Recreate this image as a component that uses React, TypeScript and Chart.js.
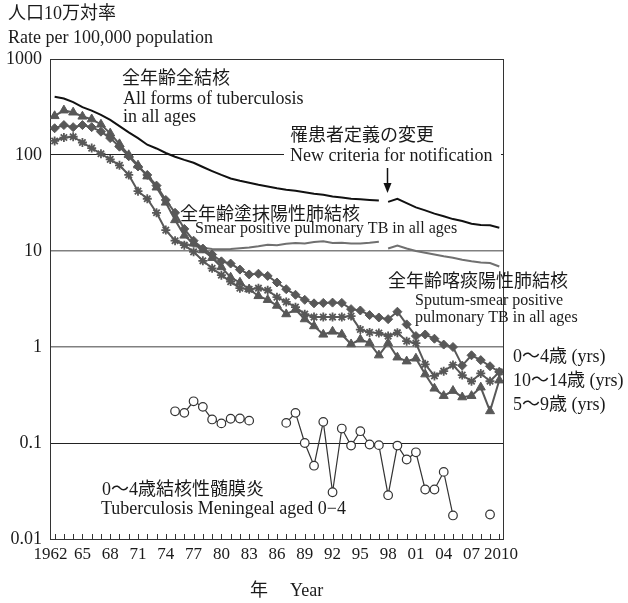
import React, { useEffect, useRef } from 'react';
import { Chart, registerables } from 'chart.js';

Chart.register(...registerables);

const FONT_FAMILY = '"Liberation Serif", "Noto Sans CJK JP", serif';

const years = [
  1962, 1963, 1964, 1965, 1966, 1967, 1968, 1969, 1970, 1971,
  1972, 1973, 1974, 1975, 1976, 1977, 1978, 1979, 1980, 1981,
  1982, 1983, 1984, 1985, 1986, 1987, 1988, 1989, 1990, 1991,
  1992, 1993, 1994, 1995, 1996, 1997, 1998, 1999, 2000, 2001,
  2002, 2003, 2004, 2005, 2006, 2007, 2008, 2009, 2010,
];

const xTickYears = [1962, 1965, 1968, 1971, 1974, 1977, 1980, 1983, 1986, 1989, 1992, 1995, 1998, 2001, 2004, 2007, 2010];
const xTickLabels = ['1962\u2002', '65', '68', '71', '74', '77', '80', '83', '86', '89', '92', '95', '98', '01', '04', '07', '\u20092010'];
const yTickValues = [0.01, 0.1, 1, 10, 100, 1000];
const yTickLabels = ['0.01', '0.1', '1', '10', '100', '1000'];

// All forms of TB, all ages (old criteria 1962-1997)
const allFormsOld = [
  404, 388, 355, 315, 290, 262, 232, 200, 172, 150,
  128, 117, 105, 96, 89, 83, 75, 68, 62, 57,
  54, 51.5, 49, 47, 45, 43.5, 42.5, 41, 39.5, 38.5,
  37, 36, 35, 34.5, 34, 33.5, null, null, null, null,
  null, null, null, null, null, null, null, null, null,
];
// All forms of TB, all ages (new criteria 1998-2010)
const allFormsNew = [
  null, null, null, null, null, null, null, null, null, null,
  null, null, null, null, null, null, null, null, null, null,
  null, null, null, null, null, null, null, null, null, null,
  null, null, null, null, null, null, 32.5, 35, 31.5, 28.5,
  26.5, 24.5, 23, 21.5, 20.5, 19.2, 18.7, 18.5, 17.5,
];
// Smear positive pulmonary TB, all ages (1975-1997)
const smearOld = [
  null, null, null, null, null, null, null, null, null, null,
  null, null, null, 13, 12, 11.3, 10.8, 10.5, 10.4, 10.5,
  10.7, 10.9, 11.2, 11.6, 11.5, 11.9, 12.1, 12.0, 12.4, 12.6,
  12.1, 12.2, 12.0, 12.0, 12.2, 12.5, null, null, null, null,
  null, null, null, null, null, null, null, null, null,
];
// Sputum-smear positive pulmonary TB, all ages (1998-2010)
const sputumNew = [
  null, null, null, null, null, null, null, null, null, null,
  null, null, null, null, null, null, null, null, null, null,
  null, null, null, null, null, null, null, null, null, null,
  null, null, null, null, null, null, 10.6, 11.4, 10.6, 10.0,
  9.6, 9.2, 8.8, 8.5, 8.1, 7.8, 7.6, 7.5, 6.9,
];
// 0-4 yrs
const age0to4 = [
  190, 205, 195, 205, 195, 175, 150, 122, 97, 76,
  62, 48, 34, 25, 17, 12.8, 10.6, 9.2, 7.8, 7.4,
  6.4, 5.7, 5.8, 5.5, 4.7, 4.0, 3.5, 3.1, 2.85, 2.88,
  2.9, 2.88, 2.48, 2.4, 2.15, 2.03, 1.95, 2.33, 1.72, 1.3,
  1.35, 1.22, 1.06, 1.0, 0.64, 0.82, 0.73, 0.63, 0.55,
];
// 10-14 yrs
const age10to14 = [
  140, 152, 155, 135, 118, 103, 90, 78, 62, 42,
  35, 25, 16.5, 12.8, 11.5, 9.8, 7.9, 6.6, 5.6, 4.8,
  4.1, 4.0, 4.1, 3.9, 3.3, 2.95, 2.6, 2.2, 2.05, 2.05,
  2.05, 2.05, 2.1, 1.52, 1.42, 1.4, 1.3, 1.41, 1.15, 1.1,
  0.66, 0.5, 0.56, 0.65, 0.51, 0.44, 0.53, 0.44, 0.55,
];
// 5-9 yrs
const age5to9 = [
  255, 292, 278, 252, 236, 208, 168, 130, 100, 78,
  60, 46, 32, 21, 14.5, 12, 10.2, 8.5, 6.8, 5.3,
  4.7, 4.0, 3.4, 3.1, 2.7, 2.2, 2.45, 1.95, 1.65, 1.35,
  1.45, 1.35, 1.07, 1.2, 1.1, 0.82, 1.1, 0.78, 0.71, 0.76,
  0.52, 0.37, 0.31, 0.35, 0.30, 0.31, 0.38, 0.215, 0.45,
];
// TB meningitis aged 0-4
const meningeal0to4 = [
  null, null, null, null, null, null, null, null, null, null,
  null, null, null, 0.214, 0.206, 0.272, 0.238, 0.176, 0.160, 0.179,
  0.18, 0.171, null, null, null, 0.162, 0.206, 0.100, 0.058, 0.166,
  0.0307, 0.1415, 0.094, 0.1327, 0.0965, 0.095, 0.0286, 0.094, 0.0673, 0.080,
  0.0328, 0.0328, 0.050, 0.0176, null, null, null, 0.018, null,
];

const GRAY = '#585858';

function pts(arr: (number | null)[]) {
  return years.map((x, i) => ({ x, y: arr[i] }));
}

export default function App() {
  const ref = useRef<HTMLCanvasElement>(null);

  useEffect(() => {
    if (!ref.current) return;

    const annotations = {
      id: 'annotations',
      beforeDatasetsDraw(chart: any) {
        const ctx = chart.ctx;
        const a = chart.chartArea;
        ctx.save();
        // white box behind "New criteria for notification"
        ctx.fillStyle = '#ffffff';
        ctx.fillRect(284, 147, 217, 17);
        // frame
        ctx.strokeStyle = '#333';
        ctx.lineWidth = 1;
        ctx.strokeRect(Math.round(a.left) + 0.5, Math.round(a.top) + 0.5, Math.round(a.right - a.left), Math.round(a.bottom - a.top));
        // inward minor ticks on x axis, one per year
        const xs = chart.scales.x;
        ctx.beginPath();
        for (const yr of years) {
          const px = Math.round(xs.getPixelForValue(yr)) + 0.5;
          ctx.moveTo(px, a.bottom);
          ctx.lineTo(px, a.bottom - 5);
        }
        ctx.stroke();
        ctx.restore();
      },
      afterDraw(chart: any) {
        const ctx = chart.ctx;
        const xs = chart.scales.x;
        ctx.save();
        ctx.fillStyle = '#1a1a1a';
        ctx.textBaseline = 'middle';
        ctx.textAlign = 'left';
        const t = (s: string, x: number, y: number, size = 18) => {
          ctx.font = `${size}px ${FONT_FAMILY}`;
          ctx.fillText(s, x, y);
        };
        t('人口10万対率', 8, 14);
        t('Rate per 100,000 population', 8, 38);
        t('全年齢全結核', 122, 79);
        t('All forms of tuberculosis', 123, 99);
        t('in all ages', 123, 117);
        t('罹患者定義の変更', 290, 136);
        t('New criteria for notification', 290, 156);
        t('全年齢塗抹陽性肺結核', 180, 215);
        t('Smear positive pulmonary TB in all ages', 195, 229, 16);
        t('全年齢喀痰陽性肺結核', 388, 282);
        t('Sputum-smear positive', 415, 301, 16);
        t('pulmonary TB in all ages', 415, 318, 16);
        t('0～4歳 (yrs)', 513, 357);
        t('10～14歳 (yrs)', 513, 381);
        t('5～9歳 (yrs)', 513, 405);
        t('0～4歳結核性髄膜炎', 102, 490);
        t('Tuberculosis Meningeal aged 0−4', 101, 509);
        t('年', 250, 591);
        t('Year', 290, 591);
        // arrow for new notification criteria
        const ax = Math.round(xs.getPixelForValue(1997.9)) + 0.5;
        ctx.strokeStyle = '#111';
        ctx.lineWidth = 1.5;
        ctx.beginPath();
        ctx.moveTo(ax, 168);
        ctx.lineTo(ax, 185);
        ctx.stroke();
        ctx.fillStyle = '#111';
        ctx.beginPath();
        ctx.moveTo(ax - 4, 183);
        ctx.lineTo(ax + 4, 183);
        ctx.lineTo(ax, 193);
        ctx.closePath();
        ctx.fill();
        ctx.restore();
      },
    };

    const markerSeries = (arr: (number | null)[], style: string, radius: number, bw = 1) => ({
      data: pts(arr),
      borderColor: GRAY,
      backgroundColor: GRAY,
      borderWidth: 2,
      pointStyle: style,
      pointRadius: radius,
      pointBorderWidth: bw,
      pointBackgroundColor: GRAY,
      pointBorderColor: GRAY,
      spanGaps: false,
      tension: 0,
    });

    const chart = new Chart(ref.current, {
      type: 'line',
      data: {
        datasets: [
          {
            data: pts(meningeal0to4),
            borderColor: '#333',
            borderWidth: 1.2,
            pointStyle: 'circle',
            pointRadius: 4.3,
            pointBorderWidth: 1.2,
            pointBackgroundColor: '#ffffff',
            pointBorderColor: '#333',
            spanGaps: false,
          } as any,
          markerSeries(age0to4, 'rectRot', 4.5) as any,
          markerSeries(age10to14, 'star', 4.5, 1.8) as any,
          markerSeries(age5to9, 'triangle', 5.2) as any,
          { data: pts(smearOld), borderColor: '#707070', borderWidth: 2, pointRadius: 0, spanGaps: false } as any,
          { data: pts(sputumNew), borderColor: '#707070', borderWidth: 2, pointRadius: 0, spanGaps: false } as any,
          { data: pts(allFormsOld), borderColor: '#111', borderWidth: 2, pointRadius: 0, spanGaps: false } as any,
          { data: pts(allFormsNew), borderColor: '#111', borderWidth: 2, pointRadius: 0, spanGaps: false } as any,
        ],
      },
      options: {
        animation: false,
        responsive: false,
        maintainAspectRatio: false,
        layout: { padding: { top: 59, right: 125, left: 0, bottom: 0 } },
        plugins: {
          legend: { display: false },
          tooltip: { enabled: false },
          title: { display: false },
        },
        elements: { line: { tension: 0 } },
        scales: {
          x: {
            type: 'linear',
            min: 1961.5,
            max: 2010.4,
            afterBuildTicks: (s: any) => {
              s.ticks = xTickYears.map((v) => ({ value: v }));
            },
            afterFit: (s: any) => {
              s.height = 64;
            },
            ticks: {
              autoSkip: false,
              maxRotation: 0,
              minRotation: 0,
              padding: 5,
              color: '#1a1a1a',
              font: { family: FONT_FAMILY, size: 17 },
              callback: (_v: any, i: number) => xTickLabels[i],
            },
            grid: { display: false, drawTicks: false },
            border: { display: false },
          },
          y: {
            type: 'logarithmic',
            min: 0.01,
            max: 1000,
            afterBuildTicks: (s: any) => {
              s.ticks = yTickValues.map((v) => ({ value: v }));
            },
            afterFit: (s: any) => {
              s.width = 50;
            },
            ticks: {
              padding: 8,
              color: '#1a1a1a',
              font: { family: FONT_FAMILY, size: 18 },
              callback: (_v: any, i: number) => yTickLabels[i],
            },
            grid: {
              drawTicks: false,
              lineWidth: (c: any) => (c.tick && (c.tick.value === 10 || c.tick.value === 1) ? 1.4 : 1),
              color: (c: any) => {
                const v = c.tick ? c.tick.value : 0;
                if (v === 1000 || v === 0.01) return 'rgba(0,0,0,0)';
                if (v === 10 || v === 1) return '#808080';
                return '#222';
              },
            },
            border: { display: false },
          },
        },
      } as any,
      plugins: [annotations],
    });

    return () => chart.destroy();
  }, []);

  return (
    <div style={{ position: 'absolute', left: 0, top: 0, width: 628, height: 603, background: '#fff' }}>
      <canvas ref={ref} width={628} height={603} style={{ width: 628, height: 603, display: 'block' }} />
    </div>
  );
}
